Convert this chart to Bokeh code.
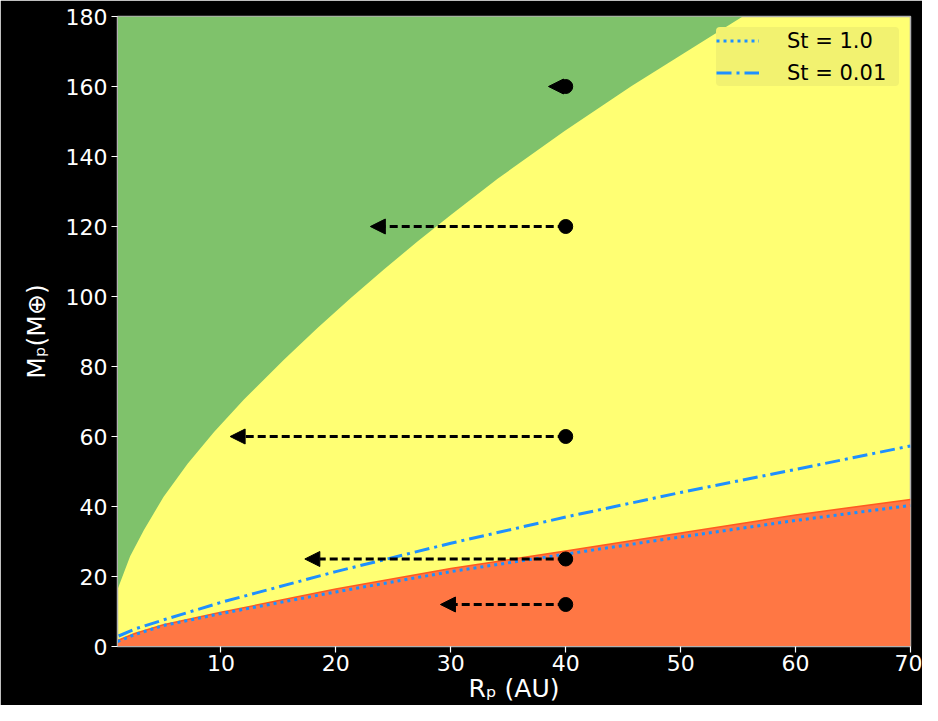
from bokeh.plotting import figure
from bokeh.models import Arrow, NormalHead, Legend, LegendItem, FixedTicker, Range1d
from bokeh.embed import file_html
from bokeh.resources import INLINE

# Green region boundary (above this: green)
green_R = [1.0, 2.1, 3.3, 5.0, 7.1, 9.4, 12.0, 15.5, 18.4, 21.3, 24.2, 27.1, 30.0, 34.1, 39.9, 45.7, 51.5, 55.4]
green_M = [16.3, 25.8, 33.3, 42.7, 52.2, 61.3, 70.6, 82.0, 91.0, 99.6, 107.8, 115.7, 123.3, 133.7, 147.3, 160.1, 172.0, 180.0]

# Red region boundary (below this: red)
red_R = [1.0, 2.5, 5.0, 10.0, 20.0, 30.0, 40.0, 50.0, 60.0, 70.0]
red_M = [1.7, 3.7, 6.2, 9.8, 16.4, 22.3, 27.3, 32.4, 37.6, 42.0]

# St = 1.0 (dotted)
st1_R = [1.0, 2.5, 5.0, 10.0, 20.0, 30.0, 40.0, 50.0, 60.0, 70.0]
st1_M = [1.4, 3.4, 6.0, 9.4, 15.6, 21.4, 26.4, 31.3, 36.0, 40.3]

# St = 0.01 (dash-dot)
st001_R = [1.1, 2.5, 5.0, 10.0, 20.0, 30.0, 40.0, 50.0, 60.0, 70.0]
st001_M = [3.0, 5.0, 7.6, 12.6, 21.4, 29.5, 37.0, 44.0, 50.6, 57.3]

# Planets and migration arrows
planet_R = [40, 40, 40, 40, 40]
planet_M = [160, 120, 60, 25, 12]
arrow_end_R = [38.5, 23.0, 10.8, 17.3, 29.1]

x_ticks = [10, 20, 30, 40, 50, 60, 70]
y_ticks = [0, 20, 40, 60, 80, 100, 120, 140, 160, 180]

FONT = "DejaVu Sans"

p = figure(width=922, height=705, x_range=Range1d(1, 70), y_range=Range1d(0, 180),
           output_backend="svg", toolbar_location=None,
           min_border_left=117, min_border_right=12, min_border_top=16, min_border_bottom=54)

p.border_fill_color = "black"
p.background_fill_color = "#FFFF73"
p.outline_line_color = "#b0b0b0"
p.outline_line_width = 1.5
p.grid.visible = False

p.varea(x=green_R, y1=green_M, y2=180, fill_color="#7FC26B")
p.varea(x=red_R, y1=0, y2=red_M, fill_color="#FF7744")
p.line(red_R, red_M, line_color="#FF5A1F", line_width=1.5)

r1 = p.line(st1_R, st1_M, line_color="#1E90FF", line_width=3, line_dash="3 4")
r2 = p.line(st001_R, st001_M, line_color="#1E90FF", line_width=3, line_dash="15 5 3 5")

p.scatter(planet_R, planet_M, size=14, color="black")
for xs, ys, xe in zip(planet_R, planet_M, arrow_end_R):
    p.add_layout(Arrow(x_start=xs, y_start=ys, x_end=xe, y_end=ys,
                       line_color="black", line_width=3, line_dash="8 4",
                       end=NormalHead(size=15, fill_color="black", line_color="black")))

for ax in (p.xaxis[0], p.yaxis[0]):
    ax.major_label_text_font = FONT
    ax.major_label_text_font_size = "22px"
    ax.major_label_text_color = "white"
    ax.major_label_standoff = 4
    ax.major_tick_line_color = "white"
    ax.major_tick_line_width = 1.2
    ax.major_tick_out = 6
    ax.major_tick_in = 0
    ax.minor_tick_line_color = None
    ax.axis_line_color = "#b0b0b0"
    ax.axis_label_text_font = FONT
    ax.axis_label_text_font_size = "25px"
    ax.axis_label_text_font_style = "normal"
    ax.axis_label_text_color = "white"

p.xaxis.ticker = FixedTicker(ticks=x_ticks)
p.yaxis.ticker = FixedTicker(ticks=y_ticks)
p.xaxis.major_label_standoff = 2
p.xaxis.axis_label = "Rₚ (AU)"
p.yaxis.axis_label = "Mₚ(M⊕)"
p.xaxis.axis_label_standoff = 0
p.yaxis.axis_label_standoff = 12

legend = Legend(items=[LegendItem(label="St = 1.0", renderers=[r1]),
                       LegendItem(label="St = 0.01", renderers=[r2])],
                location="top_right")
legend.background_fill_color = "#F2F270"
legend.background_fill_alpha = 1.0
legend.border_line_color = None
legend.label_text_font = FONT
legend.label_text_font_size = "21px"
legend.label_text_color = "black"
legend.glyph_width = 43
legend.glyph_height = 27
legend.label_height = 27
legend.label_width = 112
legend.label_standoff = 28
legend.spacing = 5
legend.padding = 5
legend.margin = 11
try:
    legend.border_radius = 4
except Exception:
    pass
p.add_layout(legend)

open("out.html", "w").write(file_html(p, INLINE))
